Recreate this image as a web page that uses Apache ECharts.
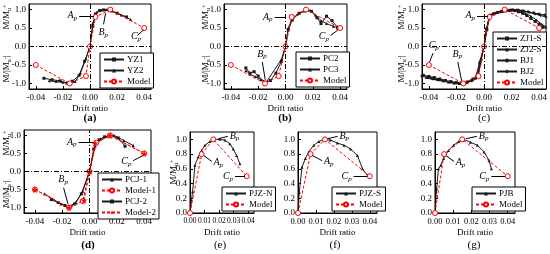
<!DOCTYPE html>
<html>
<head>
<meta charset="utf-8">
<script src="https://cdn.jsdelivr.net/npm/echarts@6/dist/echarts.min.js"></script>
<style>
  html, body { margin: 0; padding: 0; background: #fff; }
  #main { width: 550px; height: 254px; }
</style>
</head>
<body>
<div id="main"></div>
<script>
// ---- data (drift ratio, normalised moment) ----
// (a)
var yz1 = [[-0.034,-0.86],[-0.028,-0.90],[-0.022,-0.93],[-0.017,-0.99],[-0.013,-0.94],[-0.008,-0.78],[-0.004,-0.40],[0,0],[0.002,0.55],[0.004,0.88],[0.007,0.97],[0.010,0.99],[0.014,0.98],[0.020,0.90],[0.027,0.80]];
var yz2 = [[-0.030,-0.93],[-0.025,-0.95],[-0.020,-0.97],[-0.015,-1.00],[-0.011,-0.95],[-0.007,-0.72],[-0.003,-0.33],[0,0],[0.002,0.62],[0.005,0.93],[0.008,0.99],[0.012,1.00],[0.016,0.96],[0.023,0.85],[0.030,0.73]];
var modelA = [[-0.04,-0.5],[-0.015,-1.0],[-0.003,-0.8],[0,0],[0.004,0.8],[0.015,1.0],[0.04,0.5]];
// (b)
var pc2 = [[-0.029,-0.58],[-0.026,-0.72],[-0.023,-0.68],[-0.020,-0.80],[-0.015,-0.97],[-0.011,-0.92],[-0.007,-0.72],[-0.003,-0.40],[0,0],[0.002,0.45],[0.005,0.72],[0.010,0.90],[0.015,0.98],[0.019,0.95],[0.023,0.78],[0.026,0.62],[0.030,0.82],[0.034,0.70],[0.038,0.52]];
var pc3 = [[-0.029,-0.65],[-0.026,-0.75],[-0.022,-0.82],[-0.018,-0.90],[-0.014,-0.96],[-0.003,-0.35],[0,0],[0.002,0.50],[0.005,0.75],[0.009,0.88],[0.014,0.96],[0.018,0.98],[0.022,0.85],[0.026,0.70],[0.030,0.62],[0.035,0.55],[0.038,0.50]];
var modelB = [[-0.04,-0.5],[-0.015,-1.0],[-0.005,-0.8],[0,0],[0.0045,0.8],[0.015,1.0],[0.04,0.5]];
// (c)
var zj1s = [[-0.044,-0.78],[-0.040,-0.81],[-0.036,-0.84],[-0.032,-0.88],[-0.028,-0.92],[-0.024,-0.95],[-0.020,-0.98],[-0.016,-0.99],[-0.012,-0.96],[-0.008,-0.88],[-0.005,-0.80],[-0.003,-0.45],[0,0],[0.002,0.45],[0.004,0.82],[0.007,0.88],[0.010,0.92],[0.013,0.95],[0.016,0.97],[0.019,0.98],[0.022,0.97],[0.025,0.94],[0.028,0.90],[0.031,0.84],[0.034,0.76],[0.037,0.68],[0.040,0.60],[0.043,0.52]];
var zj2s = [[-0.042,-0.83],[-0.038,-0.86],[-0.034,-0.89],[-0.030,-0.93],[-0.026,-0.96],[-0.022,-0.99],[-0.018,-1.00],[-0.014,-0.98],[-0.010,-0.92],[-0.006,-0.82],[-0.003,-0.40],[0,0],[0.002,0.50],[0.004,0.85],[0.007,0.90],[0.010,0.93],[0.014,0.96],[0.018,0.98],[0.022,0.99],[0.026,0.96],[0.030,0.90],[0.034,0.82],[0.038,0.72],[0.042,0.60],[0.045,0.53]];
var bj1 = [[-0.045,-0.80],[-0.041,-0.84],[-0.037,-0.87],[-0.033,-0.90],[-0.029,-0.93],[-0.025,-0.96],[-0.021,-0.98],[-0.017,-1.00],[-0.013,-0.98],[-0.009,-0.93],[-0.006,-0.86],[-0.004,-0.78],[-0.002,-0.35],[0,0],[0.002,0.48],[0.004,0.84],[0.008,0.90],[0.012,0.94],[0.016,0.97],[0.020,0.99],[0.024,0.99],[0.028,0.97],[0.032,0.94],[0.036,0.91],[0.040,0.88],[0.044,0.85]];
var bj2 = [[-0.040,-0.85],[-0.036,-0.88],[-0.032,-0.91],[-0.028,-0.94],[-0.024,-0.97],[-0.020,-0.99],[-0.016,-1.00],[-0.012,-0.97],[-0.008,-0.90],[-0.005,-0.83],[-0.003,-0.50],[0,0],[0.002,0.50],[0.005,0.86],[0.009,0.91],[0.013,0.95],[0.017,0.98],[0.021,1.00],[0.025,0.99],[0.029,0.96],[0.033,0.92],[0.037,0.88],[0.041,0.84],[0.045,0.80]];
var modelC = [[-0.04,-0.5],[-0.015,-1.0],[-0.004,-0.8],[0,0],[0.004,0.8],[0.015,1.0],[0.04,0.5]];
// (d)
var pcj1 = [[-0.033,-0.62],[-0.027,-0.76],[-0.021,-0.90],[-0.016,-0.99],[-0.010,-0.86],[-0.005,-0.55],[0,0],[0.004,0.70],[0.008,0.90],[0.013,0.98],[0.018,1.00],[0.025,0.86],[0.032,0.72]];
var pcj2 = [[-0.028,-0.78],[-0.023,-0.86],[-0.018,-0.94],[-0.015,-0.99],[-0.011,-0.90],[-0.006,-0.62],[0,0],[0.003,0.62],[0.007,0.88],[0.011,0.96],[0.016,0.99],[0.021,0.93],[0.026,0.70]];
var model1 = [[-0.04,-0.5],[-0.015,-1.0],[-0.005,-0.82],[0,0],[0.005,0.8],[0.015,1.0],[0.04,0.5]];
var model2 = [[-0.04,-0.5],[-0.015,-1.0],[-0.004,-0.8],[0,0],[0.004,0.78],[0.015,1.0],[0.04,0.5]];
// (e) (f) (g)
var pjzn = [[0,0],[0.0018,0.29],[0.0034,0.65],[0.0057,0.76],[0.008,0.85],[0.0103,0.92],[0.0137,0.97],[0.017,1.00],[0.0206,1.00],[0.024,0.99],[0.0274,0.94],[0.0297,0.87],[0.032,0.78],[0.0343,0.67]];
var modelE = [[0,0],[0.008,0.8],[0.016,1.0],[0.039,0.5]];
var pjzs = [[0,0],[0.0007,0.28],[0.0022,0.62],[0.0041,0.74],[0.006,0.83],[0.0088,0.92],[0.0116,0.97],[0.0144,1.00],[0.018,0.99],[0.0219,0.95],[0.0256,0.92],[0.0293,0.87],[0.0331,0.78],[0.0359,0.60],[0.0387,0.51]];
var modelF = [[0,0],[0.007,0.8],[0.015,1.0],[0.04,0.5]];
var pjb = [[0,0],[0.0009,0.33],[0.0019,0.60],[0.0032,0.65],[0.0047,0.74],[0.0074,0.85],[0.0102,0.92],[0.013,0.97],[0.0158,1.00],[0.0195,0.96],[0.0233,0.92],[0.027,0.83],[0.0298,0.71],[0.031,0.60]];
var modelG = [[0,0],[0.005,0.8],[0.015,1.0],[0.04,0.5]];

// tick labels
var xTicksSym = [-0.04, -0.02, 0, 0.02, 0.04];
var yTicksSym = [-1.0, -0.5, 0, 0.5, 1.0];
var xTicksPos = [0, 0.01, 0.02, 0.03, 0.04];
var yTicksPos = [0, 0.2, 0.4, 0.6, 0.8, 1.0];

// annotation arrows: [letter, text end, arrow tip]
var annA = [['A', [-0.008, 0.83], [0.003, 0.82]], ['B', [0.010, 0.60], [0.0115, 0.90]], ['C', [0.035, 0.30], [0.0395, 0.45]]];
var annB = [['A', [-0.008, 0.80], [-0.0003, 0.80]], ['B', [-0.017, -0.42], [-0.0148, -0.90]], ['C', [0.033, 0.30], [0.0385, 0.45]]];
var annC = [['A', [-0.005, 0.83], [0.003, 0.83]], ['B', [-0.019, -0.42], [-0.0162, -0.93]], ['C', [-0.037, -0.18], [-0.0395, -0.42]]];
var annD = [['A', [-0.008, 0.82], [0.003, 0.82]], ['B', [-0.019, -0.45], [-0.0158, -0.90]], ['C', [0.032, 0.30], [0.0385, 0.43]]];
var annE = [['B', [0.026, 1.04], [0.0195, 1.01]], ['A', [0.015, 0.70], [0.0095, 0.78]], ['C', [0.031, 0.50], [0.0378, 0.50]]];
var annF = [['B', [0.022, 1.04], [0.0165, 1.01]], ['A', [0.0135, 0.71], [0.008, 0.78]], ['C', [0.031, 0.50], [0.0385, 0.50]]];
var annG = [['B', [0.023, 1.04], [0.017, 1.01]], ['A', [0.0105, 0.70], [0.006, 0.78]], ['C', [0.031, 0.50], [0.0385, 0.50]]];

var FONT = 'Liberation Serif';
var STAR = 'path://M50,0 L61,35 L98,35 L68,57 L79,91 L50,70 L21,91 L32,57 L2,35 L39,35 Z';

var grids = [
  {left: 29, top: 4, width: 122, height: 85},
  {left: 224, top: 4, width: 123, height: 85},
  {left: 422, top: 4, width: 124, height: 85},
  {left: 24, top: 130, width: 127, height: 83},
  {left: 190, top: 132, width: 64, height: 81},
  {left: 298, top: 132, width: 79, height: 81},
  {left: 435, top: 132, width: 80, height: 81}
];
grids.forEach(function (g) { g.show = true; g.borderColor = '#000'; g.borderWidth = 1; });

function xAx(i, min, max, ticks, fs) {
  return {
    gridIndex: i, type: 'value', min: min, max: max,
    name: 'Drift ratio', nameLocation: 'middle', nameGap: 15,
    nameTextStyle: {fontFamily: FONT, fontSize: 9, color: '#000'},
    axisLine: {onZero: false, lineStyle: {color: '#000', width: 1}},
    axisTick: {inside: true, length: 3, customValues: ticks, lineStyle: {color: '#000'}},
    axisLabel: {customValues: ticks, margin: 4, hideOverlap: false, fontFamily: FONT, fontSize: fs || 9, color: '#000',
      formatter: function (v) { return (Math.abs(v) < 1e-9 ? 0 : v).toFixed(2); }},
    splitLine: {show: false}
  };
}
function yAx(i, min, max, ticks) {
  return {
    gridIndex: i, type: 'value', min: min, max: max,
    axisLine: {onZero: false, lineStyle: {color: '#000', width: 1}},
    axisTick: {inside: true, length: 3, customValues: ticks, lineStyle: {color: '#000'}},
    axisLabel: {customValues: ticks, margin: 3, hideOverlap: false, fontFamily: FONT, fontSize: 9, color: '#000',
      formatter: function (v) { return (Math.abs(v) < 1e-9 ? 0 : v).toFixed(1); }},
    splitLine: {show: false}
  };
}

var xAxes = [
  xAx(0, -0.045, 0.045, xTicksSym), xAx(1, -0.045, 0.045, xTicksSym), xAx(2, -0.045, 0.045, xTicksSym),
  xAx(3, -0.048, 0.045, xTicksSym),
  xAx(4, 0, 0.044, xTicksPos, 7.5), xAx(5, 0, 0.044, xTicksPos, 8.5), xAx(6, 0, 0.044, xTicksPos, 8.5)
];
var yAxes = [
  yAx(0, -1.15, 1.15, yTicksSym), yAx(1, -1.15, 1.15, yTicksSym), yAx(2, -1.15, 1.15, yTicksSym),
  yAx(3, -1.15, 1.15, yTicksSym),
  yAx(4, 0, 1.1, yTicksPos), yAx(5, 0, 1.1, yTicksPos), yAx(6, 0, 1.1, yTicksPos)
];

var pRich = {
  i: {fontFamily: FONT, fontStyle: 'italic', fontSize: 10, color: '#000'},
  s: {fontFamily: FONT, fontStyle: 'italic', fontSize: 7, color: '#000', padding: [5, 0, 0, 0]}
};

function annLines(list) {
  return list.map(function (a) {
    return [
      {coord: a[1], symbol: 'none',
       label: {show: true, position: 'start', distance: 2, formatter: '{i|' + a[0] + '}{s|p}', rich: pRich}},
      {coord: a[2], symbol: 'arrow'}
    ];
  });
}

function black(name, data, i, sym) {
  return {
    type: 'line', name: name, data: data, xAxisIndex: i, yAxisIndex: i,
    symbol: sym, symbolSize: 3, showSymbol: true,
    lineStyle: {color: '#1a1a1a', width: 1}, itemStyle: {color: '#1a1a1a'}, z: 3
  };
}
function model(name, data, i, ann, star) {
  return {
    type: 'line', name: name, data: data, xAxisIndex: i, yAxisIndex: i,
    symbol: star ? STAR : 'circle', symbolSize: star ? 7 : 5,
    lineStyle: {color: '#ff0000', width: 1, type: [3, 2]},
    itemStyle: star ? {color: '#ff0000'} : {color: '#ffffff', borderColor: '#ff0000', borderWidth: 1},
    z: 4,
    markLine: ann ? {
      silent: true, symbol: ['none', 'arrow'], symbolSize: [0, 6],
      lineStyle: {color: '#000', width: 1, type: 'solid'},
      label: {show: true}, data: annLines(ann)
    } : undefined
  };
}
function zeroLines(i) {
  // dash-dot reference lines at x=0 and y=0
  return {
    type: 'line', data: [], xAxisIndex: i, yAxisIndex: i, silent: true,
    markLine: {
      silent: true, symbol: ['none', 'none'], label: {show: false},
      lineStyle: {color: '#000', width: 1, type: [5, 2, 1, 2]},
      data: [{xAxis: 0}, {yAxis: 0}]
    }
  };
}

var series = [
  zeroLines(0), black('YZ1', yz1, 0, 'rect'), black('YZ2', yz2, 0, 'triangle'), model('Model', modelA, 0, annA),
  zeroLines(1), black('PC2', pc2, 1, 'rect'), black('PC3', pc3, 1, 'triangle'), model('Model', modelB, 1, annB),
  zeroLines(2), black('ZJ1-S', zj1s, 2, 'rect'), black('ZJ2-S', zj2s, 2, 'triangle'),
  black('BJ1', bj1, 2, 'circle'), black('BJ2', bj2, 2, 'diamond'), model('Model', modelC, 2, annC),
  zeroLines(3), black('PCJ-1', pcj1, 3, 'triangle'), model('Model-1', model1, 3, annD),
  black('PCJ-2', pcj2, 3, 'rect'), model('Model-2', model2, 3, null, true),
  black('PJZ-N', pjzn, 4, 'triangle'), model('Model', modelE, 4, annE),
  black('PJZ-S', pjzs, 5, 'triangle'), model('Model', modelF, 5, annF),
  black('PJB', pjb, 6, 'triangle'), model('Model', modelG, 6, annG)
];

function leg(names, left, top) {
  return {
    data: names, left: left, top: top, orient: 'vertical',
    itemWidth: 20, itemHeight: 5, itemGap: 2, padding: [2, 3, 2, 3],
    borderColor: '#000', borderWidth: 1, backgroundColor: '#fff', selectedMode: false,
    textStyle: {fontFamily: FONT, fontSize: 9, color: '#000', padding: [0, 0, 0, -2]}
  };
}
var legends = [
  leg(['YZ1', 'YZ2', 'Model'], 100, 53),
  leg(['PC2', 'PC3', 'Model'], 296, 52),
  leg(['ZJ1-S', 'ZJ2-S', 'BJ1', 'BJ2', 'Model'], 493, 32),
  leg(['PCJ-1', 'Model-1', 'PCJ-2', 'Model-2'], 98, 173),
  leg(['PJZ-N', 'Model'], 222, 187),
  leg(['PJZ-S', 'Model'], 332, 187),
  leg(['PJB', 'Model'], 472, 187)
];

var nameRich = {
  a: {fontFamily: FONT, fontSize: 9, fill: '#000'},
  s: {fontFamily: FONT, fontSize: 6, fill: '#000', padding: [4, 0, 0, 0]},
  p: {fontFamily: FONT, fontSize: 6, fill: '#000', padding: [0, 0, 4, 0]}
};
function yName(x, y, upper) {
  return {
    type: 'text', x: x, y: y, rotation: Math.PI / 2, silent: true,
    style: {
      text: upper ? '{a|M/M}{s|u}{p|+}' : '{a|M/|M}{s|u}{p|-}{a||}',
      rich: nameRich, textAlign: 'center', textVerticalAlign: 'middle',
      fontFamily: FONT, fontSize: 9, fill: '#000'
    }
  };
}
function tag(text, x, y, bold) {
  return {
    type: 'text', x: x, y: y, silent: true,
    style: {text: text, textAlign: 'center', textVerticalAlign: 'middle',
      fontFamily: FONT, fontSize: 11, fontWeight: bold ? 'bold' : 'normal', fill: '#000'}
  };
}

var graphics = [
  yName(7, 17, true), yName(7, 69, false),
  yName(206, 17, true), yName(206, 69, false),
  yName(402, 17, true), yName(402, 69, false),
  yName(7, 143, true), yName(7, 194, false),
  yName(174, 172, true),
  tag('(a)', 90, 118, true), tag('(b)', 285, 118, true), tag('(c)', 484, 118, false),
  tag('(d)', 88, 245, true), tag('(e)', 220, 245, false), tag('(f)', 335, 245, false), tag('(g)', 474, 245, false)
];

var chart = echarts.init(document.getElementById('main'), null, {renderer: 'canvas'});
chart.setOption({
  animation: false,
  backgroundColor: '#fff',
  grid: grids,
  xAxis: xAxes,
  yAxis: yAxes,
  legend: legends,
  series: series,
  graphic: graphics
});
</script>
</body>
</html>
